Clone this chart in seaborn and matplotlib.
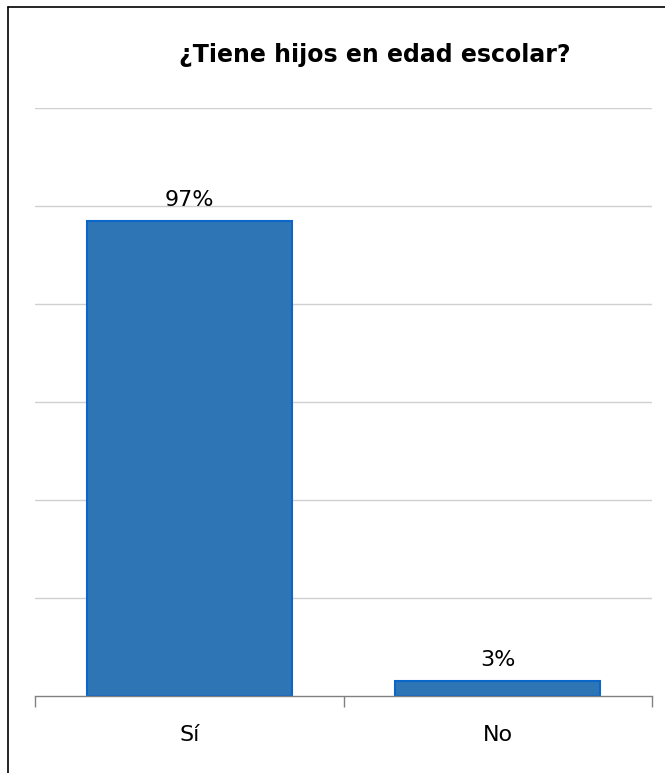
import matplotlib
matplotlib.use("Agg")
import matplotlib.pyplot as plt
import seaborn as sns
import pandas as pd
from matplotlib.lines import Line2D

categories = ["Sí", "No"]
values = [97, 3]
value_labels = ["97%", "3%"]
title = "¿Tiene hijos en edad escolar?"

sns.set_theme(style="white")
plt.rcParams['font.family'] = ['DejaVu Sans']

df = pd.DataFrame({"cat": categories, "val": values})

fig = plt.figure(figsize=(6.65, 7.73), dpi=100)
ax = fig.add_axes([35/665, 77/773, (652-35)/665, (696-108)/773])

sns.barplot(data=df, x="cat", y="val", ax=ax, color="#2E75B6", width=0.665,
            edgecolor="#0A66C8", linewidth=1.5, saturation=1)

ax.set_ylim(0, 120)
ax.set_xlim(-0.5, 1.5)
ax.set_yticks([20, 40, 60, 80, 100, 120])
ax.set_yticklabels([])
ax.tick_params(axis='y', length=0)
ax.yaxis.grid(True, color="#D0D0D0", linewidth=1)
ax.set_axisbelow(True)
for s in ["top", "right", "left"]:
    ax.spines[s].set_visible(False)
ax.spines["bottom"].set_color("#808080")
ax.spines["bottom"].set_linewidth(1)

ax.set_xticks([-0.5, 0.5, 1.5], minor=True)
ax.tick_params(axis='x', which='minor', length=8, width=1, color="#808080", direction='out', bottom=True)
ax.tick_params(axis='x', which='major', length=0, pad=21, labelsize=16, labelcolor="black")
ax.set_xlabel("")
ax.set_ylabel("")

for p, lab in zip(ax.patches, value_labels):
    ax.annotate(lab, (p.get_x() + p.get_width()/2, p.get_height()),
                xytext=(0, 8), textcoords="offset points",
                ha="center", va="bottom", fontsize=16, color="black")

fig.text(375/665, 1 - 55/773, title, ha="center", va="center",
         fontsize=17, fontweight="bold", color="black")

fig.add_artist(Line2D([8/665, 8/665], [0, 1 - 7/773], transform=fig.transFigure, color="black", linewidth=1.2))
fig.add_artist(Line2D([8/665, 1], [1 - 7/773, 1 - 7/773], transform=fig.transFigure, color="black", linewidth=1.2))

fig.savefig("out.png", dpi=100, facecolor="white")
